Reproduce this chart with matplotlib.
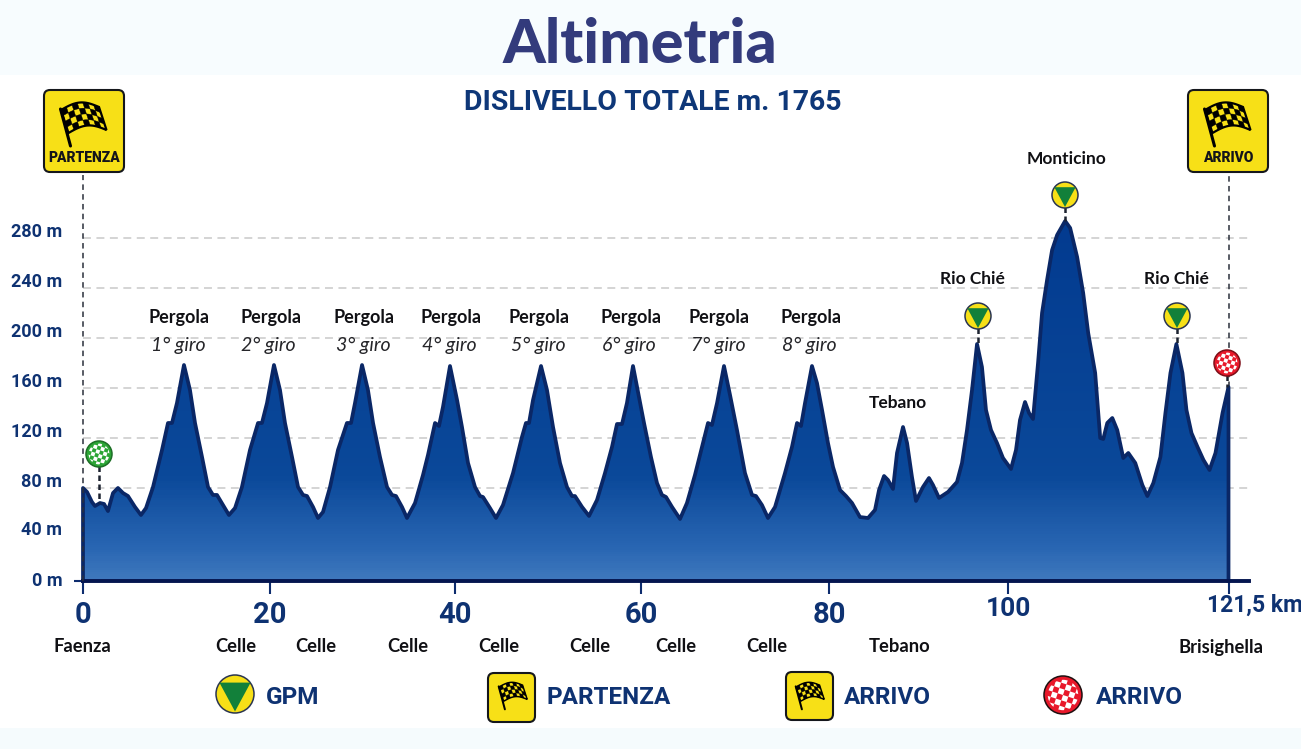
import numpy as np
import matplotlib
matplotlib.use("Agg")
import matplotlib.pyplot as plt
from matplotlib.colors import LinearSegmentedColormap
from matplotlib.patches import Rectangle, Circle, FancyBboxPatch, Polygon
from matplotlib.path import Path
from matplotlib.transforms import ScaledTranslation

# ---- data ----
km_lap1 = [0, 0.43, 0.96, 1.28, 1.82, 2.25, 2.67, 3.21, 3.74, 4.28, 4.81, 5.56, 6.2, 6.74, 7.49, 8.45, 9.09, 9.52, 10.05, 10.8, 11.44, 11.98, 12.73, 13.37, 13.9, 14.33, 14.97, 15.61]
m_lap1 = [80, 76.7, 68.3, 65, 67.5, 66.7, 60.8, 75.8, 80, 75.8, 73.3, 64.2, 57.5, 63.3, 80.8, 110.4, 132, 132, 148, 178.4, 158.4, 132, 104.8, 80.8, 74.2, 74.2, 65.8, 57.5]
km_lap2 = [16.26, 17.0, 17.86, 18.72, 19.14, 19.68, 20.43, 21.08, 21.62, 22.38, 23.03, 23.57, 24.0, 24.65, 25.19]
m_lap2 = [63.3, 80.8, 110.4, 132, 132, 148, 178.4, 158.4, 132, 104.8, 80.8, 74.2, 73.3, 64.2, 55]
km_lap3 = [25.73, 26.49, 27.35, 28.32, 28.76, 29.19, 29.95, 30.59, 31.14, 31.89, 32.65, 33.19, 33.62, 34.27, 34.81]
m_lap3 = [60, 80.8, 110.4, 132, 132, 148, 178.4, 158.4, 132, 104.8, 80.8, 74.2, 73.3, 64.2, 55]
km_lap4 = [35.68, 36.54, 37.08, 37.84, 38.27, 38.7, 39.46, 40.22, 40.75, 41.4, 42.15, 42.69, 43.01, 43.76, 44.41]
m_lap4 = [67.5, 90.4, 106.4, 132, 129.6, 144.8, 177.6, 150.4, 128.8, 100, 80.8, 73.3, 72.5, 63.3, 55]
km_lap5 = [45.16, 46.24, 47.2, 47.63, 47.96, 48.39, 49.25, 49.89, 50.54, 51.29, 52.04, 52.58, 52.9, 53.66, 54.41]
m_lap5 = [65.8, 92, 120.8, 132, 132, 150.4, 177.6, 158.4, 128.8, 100, 80.8, 73.3, 73.3, 64.2, 56.7]
km_lap6 = [55.27, 56.13, 56.88, 57.42, 57.96, 58.49, 59.14, 59.78, 60.32, 61.06, 61.7, 62.23, 62.66, 63.3, 64.15]
m_lap6 = [70, 92, 112.8, 131.2, 131.2, 148, 177.6, 152.8, 132, 104.8, 84, 74.2, 72.5, 64.2, 54.2]
km_lap7 = [64.89, 65.74, 66.49, 67.13, 67.55, 68.09, 68.83, 69.47, 70.21, 71.06, 71.81, 72.23, 72.87, 73.51]
m_lap7 = [67.5, 90.4, 112.8, 132, 130.4, 148, 177.6, 154.4, 126.4, 92, 74.2, 73.3, 65.8, 55]
km_lap8 = [74.26, 75.32, 76.06, 76.6, 77.02, 77.45, 78.19, 78.72, 79.26, 79.89, 80.45, 81.23, 81.9, 82.57, 83.46, 84.36]
m_lap8 = [64.2, 92, 112.8, 132, 129.6, 148, 177.6, 164, 142.4, 116, 96.8, 78.3, 73.3, 67.5, 55.8, 55]
km_tebano = [85.14, 85.59, 86.15, 86.59, 87.15, 87.6, 88.27, 88.72, 89.27, 89.72, 90.5, 91.17, 91.62, 92.29, 93.3, 94.3, 94.86, 95.42, 95.98, 96.54, 97.09, 97.54, 98.1, 98.77, 99.44]
m_tebano = [61.7, 78.3, 89.6, 86.4, 79.2, 108, 128.8, 116, 88.8, 69.2, 80.8, 88, 82.4, 71.7, 76.7, 84.8, 100, 126.4, 158.4, 195.2, 176.8, 142.4, 126.4, 116, 104]
km_final = [100.29, 100.78, 101.17, 101.66, 102.05, 102.44, 102.93, 103.32, 103.81, 104.3, 104.79, 105.57, 106.06, 106.74, 107.33, 107.82, 108.5, 108.99, 109.29, 109.68, 110.17, 110.65, 111.24, 111.73, 112.41, 113.1, 113.59, 114.17, 114.86, 115.35, 115.84, 116.42, 117.01, 117.4, 117.89, 118.48, 119.06, 119.65, 120.23, 120.92, 121.5]
m_final = [95.2, 110.4, 134.4, 148.8, 140, 135.2, 180, 220, 246.4, 270.4, 282.4, 293.6, 288, 264.8, 236, 204, 172, 120, 119.2, 132, 136, 126.4, 104, 108, 100, 82.4, 73.3, 84, 104.8, 140, 172, 195.2, 172, 142.4, 124, 112.8, 102.4, 94.4, 108, 140, 160.8]

x_ticks = [0, 20, 40, 60, 80, 100, 121.5]
x_labels = ['0', '20', '40', '60', '80', '100', '121,5 km']
y_ticks = [0, 40, 80, 120, 160, 200, 240, 280]
y_labels = ['0 m', '40 m', '80 m', '120 m', '160 m', '200 m', '240 m', '280 m']

climb_names = ['Pergola'] * 8
climb_laps = ['1° giro', '2° giro', '3° giro', '4° giro', '5° giro', '6° giro', '7° giro', '8° giro']
town_names = ['Faenza', 'Celle', 'Celle', 'Celle', 'Celle', 'Celle', 'Celle', 'Celle', 'Tebano', 'Brisighella']

km = np.array(km_lap1 + km_lap2 + km_lap3 + km_lap4 + km_lap5 + km_lap6 + km_lap7 + km_lap8 + km_tebano + km_final)
elev = np.array(m_lap1 + m_lap2 + m_lap3 + m_lap4 + m_lap5 + m_lap6 + m_lap7 + m_lap8 + m_tebano + m_final)

# ---- styles ----
NAVY = '#0e3272'
LINE = '#0a2766'
YEL = '#f7e017'
SANS = ['Roboto', 'DejaVu Sans']
GEO = ['Lato', 'DejaVu Sans']

W, H = 1301, 749
fig = plt.figure(figsize=(W / 100, H / 100), dpi=100, facecolor='white')
fig.patches.append(Rectangle((0, 1 - 75 / H), 1, 75 / H, transform=fig.transFigure, fc='#f7fcfe', ec='none', zorder=-5))
fig.patches.append(Rectangle((0, 0), 1, 21 / H, transform=fig.transFigure, fc='#f5fbfd', ec='none', zorder=-5))

# the printed scales are not perfectly even: piecewise mapping to the drawn ticks
xa_km = np.array([0, 20, 40, 60, 80, 100, 121.5, 123.55])
xa_px = np.array([83.0, 270.0, 455.0, 641.0, 829.0, 1008.0, 1228.5, 1249.0])
ya_m = np.array([0, 40, 80, 280, 330])
ya_px = np.array([581.0, 536.0, 488.0, 238.0, 175.5])

L, R, B, T = 83.0, 1249.0, 581.0, 175.5
ax = fig.add_axes([L / W, 1 - B / H, (R - L) / W, (B - T) / H], facecolor='none')
ax.set_xscale('function', functions=(lambda v: np.interp(v, xa_km, xa_px), lambda p: np.interp(p, xa_px, xa_km)))
ax.set_yscale('function', functions=(lambda v: np.interp(v, ya_m, -ya_px), lambda p: np.interp(p, -ya_px, ya_m)))
ax.set_xlim(0, 123.55)
ax.set_ylim(0, 330)

# gradient fill clipped to the profile
cmap = LinearSegmentedColormap.from_list('prof', [(0, '#4079bd'), (0.09, '#2a67b3'), (0.3, '#0a4899'), (1, '#023a8f')])
yy = np.linspace(0, 300, 151)
mesh = ax.pcolormesh([0, 121.5], yy, (0.5 * (yy[:-1] + yy[1:]))[:, None], cmap=cmap, vmin=0, vmax=300, zorder=2, shading='flat')
outline_x = np.r_[0, km, 121.5]
outline_y = np.r_[0, elev, 0]
clip = Path(np.c_[outline_x, outline_y], closed=False)
mesh.set_clip_path(clip, ax.transData)
ax.plot(outline_x, outline_y, color=LINE, lw=2.7, zorder=3, solid_joinstyle='round', clip_on=False)

# axes
for s in ['top', 'left', 'right']:
    ax.spines[s].set_visible(False)
ax.spines['bottom'].set_color('#04154f')
ax.spines['bottom'].set_linewidth(2.8)
ax.spines['bottom'].set_zorder(4)
ax.set_xticks(x_ticks, x_labels)
ax.set_yticks(y_ticks, y_labels)
ax.tick_params(axis='x', length=9.5, width=1.5, color='#0d2c6e', pad=5, labelcolor=NAVY)
ax.tick_params(axis='y', length=0, pad=15, labelcolor=NAVY)
ax.minorticks_off()
labs = ax.get_xticklabels()
for lab in labs:
    lab.set_fontfamily(SANS)
    lab.set_fontweight('bold')
    lab.set_fontsize(21)
up = ScaledTranslation(0, 4 / 100, fig.dpi_scale_trans)
labs[-2].set_fontsize(19)
labs[-2].set_transform(labs[-2].get_transform() + up)
labs[-1].set_fontsize(16.5)
labs[-1].set_ha('left')
labs[-1].set_transform(labs[-1].get_transform() + ScaledTranslation(-21.5 / 100, 7 / 100, fig.dpi_scale_trans))

ax.yaxis.grid(True, color='#c9c9c9', lw=1.1, ls=(0, (5.2, 3.6)), zorder=1)
ax.set_axisbelow(True)
ylift = ScaledTranslation(0, 6 / 100, fig.dpi_scale_trans)
for i, tick in enumerate(ax.yaxis.get_major_ticks()):
    tick.label1.set_fontfamily(SANS)
    tick.label1.set_fontweight('bold')
    tick.label1.set_fontsize(13)
    tick.label1.set_va('center')
    if i > 0:
        tick.label1.set_transform(tick.label1.get_transform() + ylift)
    if i < 2:
        tick.gridline.set_visible(False)
t0 = ax.yaxis.get_major_ticks()[0]
t0.tick1line.set_markersize(6.5)
t0.tick1line.set_markeredgewidth(1.5)
t0.tick1line.set_markeredgecolor('#0d2c6e')

# dashed guides
DASH = (0, (3.6, 2.8))
ax.plot([0, 0], [0, 330], color='#2a2f3a', lw=1.1, ls=DASH, clip_on=False, zorder=5)
ax.plot([121.5, 121.5], [160.8, 330], color='#2a2f3a', lw=1.1, ls=DASH, clip_on=False, zorder=1.5)

# overlay in pixels for signs and captions
ov = fig.add_axes([0, 0, 1, 1], facecolor='none')
ov.set_xlim(0, W)
ov.set_ylim(H, 0)
ov.axis('off')


def stem(x, y0, y1):
    ov.plot([x, x], [y0, y1], color='#1c2230', lw=1.8, ls=(0, (2.2, 1.4)), zorder=4)


def gpm(cx, cy, r):
    ov.add_patch(Circle((cx, cy), r, fc=YEL, ec='#2a3550', lw=1.1, zorder=6))
    ov.add_patch(Polygon([(cx - r * .82, cy - r * .6), (cx + r * .82, cy - r * .6), (cx, cy + r * .92)], fc='#12803a', ec='none', zorder=7))


def checker(cx, cy, r, color, edge):
    c = Circle((cx, cy), r, fc=color, ec=edge, lw=1.1, zorder=6)
    ov.add_patch(c)
    n = 4
    a = r / 3.4
    th = np.deg2rad(18)
    R_ = np.array([[np.cos(th), -np.sin(th)], [np.sin(th), np.cos(th)]])
    for i in range(-n, n):
        for j in range(-n, n):
            if (i + j) % 2 == 0:
                sq = np.array([[i, j], [i + 1, j], [i + 1, j + 1], [i, j + 1]]) * a
                pts = sq @ R_.T + [cx, cy]
                p = Polygon(pts, fc='white', ec='none', zorder=7)
                ov.add_patch(p)
                p.set_clip_path(Circle((cx, cy), r * .8, transform=ov.transData))


def flag(x0, y0, s):
    nu, nv = 7, 4
    def P(u, v):
        return (x0 + s * (38 * u + 7.5 * v), y0 + s * (-6 * np.sin(np.pi * u) - 3 * u + 23 * v))
    uu = np.linspace(0, 1, 25)
    border = [P(u, 0) for u in uu] + [P(u, 1) for u in uu[::-1]]
    ov.add_patch(Polygon(border, fc=YEL, ec='black', lw=1.4 * s + .2, zorder=7))
    for i in range(nu):
        for j in range(nv):
            if (i + j) % 2 == 0:
                us = np.linspace(i / nu, (i + 1) / nu, 4)
                pts = [P(u, j / nv) for u in us] + [P(u, (j + 1) / nv) for u in us[::-1]]
                ov.add_patch(Polygon(pts, fc='black', ec='black', lw=.3, zorder=8))
    ov.plot([x0 - s * 0.5, x0 + s * 9.5], [y0 - s * 1, y0 + s * 36], color='black', lw=2.0 * s + .2, zorder=8, solid_capstyle='round')


def sign(x0, y0, x1, y1, fx, fy, s, text=None):
    ov.add_patch(FancyBboxPatch((x0 + 4, y0 + 4), x1 - x0 - 8, y1 - y0 - 8, boxstyle='round,pad=4,rounding_size=6',
                                fc=YEL, ec='#15171c', lw=1.5, zorder=6))
    flag(fx, fy, s)
    if text:
        ov.text((x0 + x1) / 2, y1 - 13.5, text, family=SANS, weight='black', fontsize=10, color='#14141a', ha='center', va='center', zorder=9)


# signs
sign(44, 90, 124, 172, 61, 110, 1.0, 'PARTENZA')
sign(1188, 90, 1268, 172, 1205, 110, 1.0, 'ARRIVO')
stem(99, 466, 503)
checker(99, 454, 13, '#2ba535', '#1d6e26')
stem(1227, 375, 387)
checker(1227, 363, 13, '#e8182a', '#7d0f18')
stem(1065, 207, 221); gpm(1065, 195, 13)
stem(978, 328, 344); gpm(978, 316, 13)
stem(1177, 328, 344); gpm(1177, 316, 13)

# titles
ov.text(640, 63, 'Altimetria', family=GEO, weight='black', fontsize=44, color='#333b7c', ha='center', va='baseline')
ov.text(652.5, 102, 'DISLIVELLO TOTALE m. 1765', family=SANS, weight='bold', fontsize=20.4, color='#0e3778', ha='center', va='center')

# climb captions
for x, n in zip([179, 271, 364, 451, 539, 631, 719, 811], climb_names):
    ov.text(x, 318, n, family=GEO, weight='bold', fontsize=13, color='#101014', ha='center', va='center', zorder=9)
for x, n in zip([178, 268, 363, 449, 538, 629, 718, 809], climb_laps):
    ov.text(x, 345, n, family=GEO, style='italic', fontsize=14, color='#26262a', ha='center', va='center', zorder=9)
for x, y, n in [(898, 403, 'Tebano'), (972, 279, 'Rio Chié'), (1176, 279, 'Rio Chié'), (1066, 158.5, 'Monticino')]:
    ov.text(x, y, n, family=GEO, weight='bold', fontsize=12.5, color='#101014', ha='center', va='center', zorder=9)

# places under the axis
for x, n in zip([82, 236, 316, 408, 499, 590, 676, 767, 900, 1221], town_names):
    ov.text(x, 647, n, family=GEO, weight='bold', fontsize=13.2, color='#101014', ha='center', va='center')

# legend
LEG = dict(family=SANS, weight='bold', fontsize=17.5, color=NAVY, ha='left', va='center')
gpm(235, 694, 19)
ov.text(266, 697, 'GPM', **LEG)
sign(488, 673, 535, 722, 499, 687, 0.62)
ov.text(546, 697, 'PARTENZA', **LEG)
sign(786, 672, 833, 720, 796, 687, 0.62)
ov.text(844, 697, 'ARRIVO', **LEG)
checker(1063, 695, 19, '#e8182a', '#1d1010')
ov.text(1096, 697, 'ARRIVO', **LEG)

fig.savefig('out.png', dpi=100, facecolor=fig.get_facecolor())
